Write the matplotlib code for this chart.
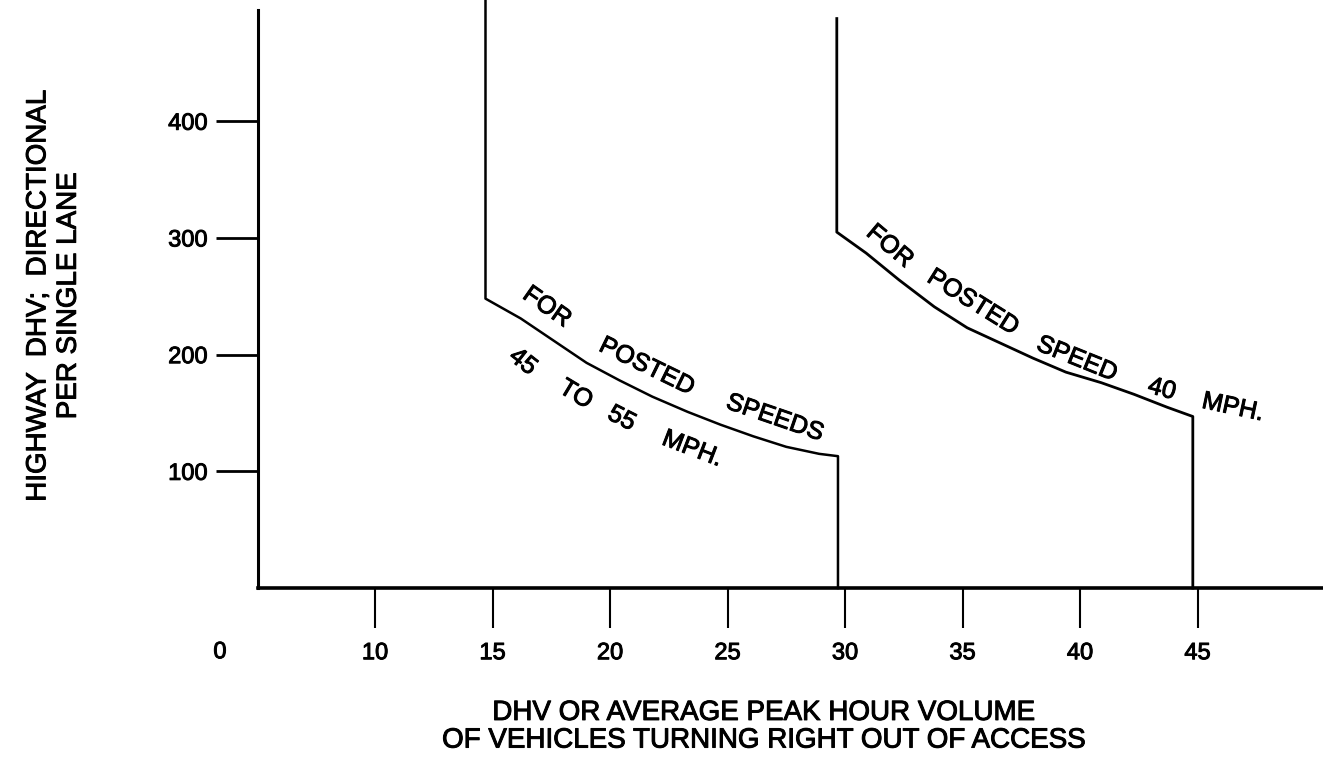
import matplotlib
matplotlib.use("Agg")
import matplotlib.pyplot as plt
import matplotlib.patheffects as pe

# fonts - helvetica-like
plt.rcParams['font.family'] = ['Liberation Sans', 'DejaVu Sans']

# axis ticks
x_ticks = [10, 15, 20, 25, 30, 35, 40, 45]
y_ticks = [100, 200, 300, 400]

# curve for posted speeds 45 to 55 mph
curve1_x = [14.7, 14.7, 16.2, 17.6, 19.0, 20.4, 21.8, 23.3, 24.7, 26.1, 27.5, 28.9, 29.7, 29.7]
curve1_y = [510, 248, 231, 212, 193, 178, 164, 151, 140, 130, 121, 115, 113, 0]

# curve for posted speed 40 mph
curve2_x = [29.65, 29.65, 30.9, 32.3, 33.8, 35.2, 36.6, 38.0, 39.4, 40.9, 42.3, 43.7, 44.8, 44.8]
curve2_y = [488, 305, 287, 264, 241, 223, 210, 197, 185, 176, 166, 155, 147, 0]

# words written along the curves: text, x, y, angle
words1 = [("FOR", 17.32, 241, -35), ("POSTED", 21.57, 190, -26), ("SPEEDS", 27.02, 146, -19),
          ("45", 16.3, 194, -38), ("TO", 18.55, 166, -31), ("55", 20.5, 145.5, -27),
          ("MPH.", 23.5, 119.5, -21)]
words2 = [("FOR", 31.91, 293, -40), ("POSTED", 35.45, 245, -32), ("SPEED", 39.87, 196.5, -22),
          ("40", 43.49, 170.5, -15), ("MPH.", 46.5, 155, -12)]

# thicken text a bit like the scanned print
ink = [pe.withStroke(linewidth=0.7, foreground='black')]

fig = plt.figure(figsize=(13.23, 7.61), dpi=100)
ax = fig.add_axes([0, 0, 1, 1])
ax.set_xlim(-5.96, 50.34)
ax.set_ylim(-148.2, 503.9)

# axes drawn as an L, origin sits at x=5 (axis is broken, labelled 0)
for s in ['top', 'right']:
    ax.spines[s].set_visible(False)
ax.spines['left'].set_position(('data', 5))
ax.spines['left'].set_bounds(0, 495)
ax.spines['bottom'].set_position(('data', 0))
ax.spines['bottom'].set_bounds(5, 50.34)
ax.spines['left'].set_linewidth(2.2)
ax.spines['bottom'].set_linewidth(2.6)

ax.set_xticks(x_ticks)
ax.set_yticks(y_ticks)
ax.tick_params(axis='x', direction='out', length=29, width=1.5, pad=10, labelsize=17)
ax.tick_params(axis='y', direction='out', length=30, width=2, pad=6, labelsize=17)
for lab in ax.get_xticklabels() + ax.get_yticklabels():
    lab.set_path_effects(ink)
ax.text(3.4, -55, "0", ha='center', va='center', fontsize=17, path_effects=ink)

ax.plot(curve1_x, curve1_y, color='black', lw=1.8, solid_joinstyle='round')
ax.plot(curve2_x, curve2_y, color='black', lw=2.0, solid_joinstyle='round')

for w, x, y, a in words1 + words2:
    ax.text(x, y, w, ha='center', va='center', rotation=a, rotation_mode='anchor',
            fontsize=18, path_effects=ink)

# axis titles
fig.text(0.029, 0.611, "HIGHWAY  DHV;  DIRECTIONAL", rotation=90, ha='center', va='center',
         fontsize=20, path_effects=ink)
fig.text(0.052, 0.611, "PER SINGLE LANE", rotation=90, ha='center', va='center',
         fontsize=20, path_effects=ink)
fig.text(0.577, 0.045, "DHV OR AVERAGE PEAK HOUR VOLUME\nOF VEHICLES TURNING RIGHT OUT OF ACCESS",
         ha='center', va='center', fontsize=20, linespacing=1.08, path_effects=ink)

fig.savefig("out.png", dpi=100)
